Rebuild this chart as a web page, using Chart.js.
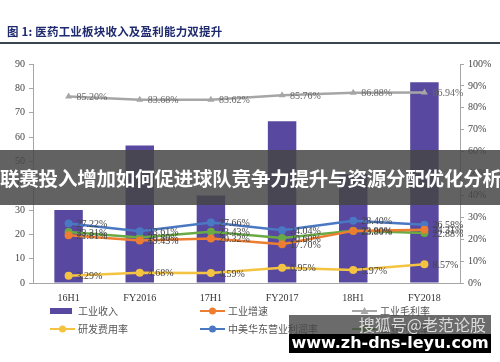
<!DOCTYPE html>
<html>
<head>
<meta charset="utf-8">
<script src="https://cdn.jsdelivr.net/npm/chart.js@4"></script>
<style>
    html, body { margin: 0; padding: 0; background: #fff; }
    #wrap { position: relative; width: 500px; height: 362px; overflow: hidden; }
    #title {
        position: absolute; left: 7px; top: 23px;
        font: bold 11.5px "Noto Sans CJK SC", sans-serif; color: #1f2a6e; letter-spacing: 0.2px;
    }
    #rule { position: absolute; left: 0; top: 42px; width: 500px; height: 2px; background: #3a4552; }
    canvas { position: absolute; left: 0; top: 0; }
    #banner {
        position: absolute; left: 0; top: 150px; width: 500px; height: 55px;
        background: rgba(70, 70, 70, 0.85); color: #fff;
        font: bold 19.5px "Noto Sans CJK SC", sans-serif; line-height: 55px;
        text-align: center; white-space: nowrap; letter-spacing: -0.2px;
    }
    #wm1 {
        position: absolute; left: 289px; top: 315px; width: 202px; height: 19px;
        background: rgba(70, 70, 70, 0.8); color: #ddd;
        font: 16px "Noto Sans CJK SC", sans-serif; line-height: 19px; text-align: right;
        box-sizing: border-box; padding-right: 5px; white-space: nowrap;
    }
    #wm2 {
        position: absolute; left: 289px; top: 334px; width: 202px; height: 19px;
        background: #000; color: #fff;
        font: bold 16px "DejaVu Sans", sans-serif; line-height: 17px; text-align: center;
        white-space: nowrap;
    }
</style>
</head>
<body>
<div id="wrap">
    <canvas id="chart" width="500" height="362"></canvas>
    <div id="title">图 1:  医药工业板块收入及盈利能力双提升</div>
    <div id="rule"></div>
    <div id="banner">联赛投入增加如何促进球队竞争力提升与资源分配优化分析</div>
    <div id="wm1">搜狐号@老范论股</div>
    <div id="wm2">www.zh-dns-leyu.com</div>
</div>
<script>
// Data
const periods = ['16H1', 'FY2016', '17H1', 'FY2017', '18H1', 'FY2018'];
const revenue = [30, 56.5, 36, 66.5, 44.7, 82.5];          // 工业收入 (left axis)
const growth = [21.81, 19.43, 20.32, 17.70, 23.80, 24.31]; // 工业增速 %
const grossMargin = [85.20, 83.68, 83.62, 85.76, 86.88, 86.94]; // 工业毛利率 %
const rdRate = [3.29, 4.68, 4.59, 6.95, 5.97, 8.57];       // 研发费用率 %
const huadongMargin = [27.22, 23.61, 27.66, 24.04, 28.40, 26.58]; // 中美华东营业利润率 %
const otherMargin = [23.31, 20.80, 23.43, 20.60, 23.90, 22.88];   // 工业利润率 %
const leftTicks = { min: 0, max: 90, step: 10 };
const rightTicks = { min: 0, max: 100, step: 10 };

const tickFont = { family: '"Liberation Serif", serif', size: 10 };
const axisColor = '#a6a6a6';

const lineSet = (label, data, color, style) => ({
    type: 'line', label, data, yAxisID: 'y1',
    borderColor: color, backgroundColor: color,
    borderWidth: 2.5, pointStyle: style || 'circle', pointRadius: 4,
    pointBorderWidth: 0, tension: 0, order: 1
});

// draws "xx.xx%" next to every line point
const pointLabels = {
    id: 'pointLabels',
    afterDatasetsDraw(chart) {
        const ctx = chart.ctx;
        ctx.save();
        ctx.font = '10px "Liberation Serif", serif';
        ctx.textBaseline = 'middle';
        chart.data.datasets.forEach((ds, i) => {
            if (ds.type !== 'line') return;
            const meta = chart.getDatasetMeta(i);
            ctx.fillStyle = ds.label === '工业毛利率' ? '#666' : '#444';
            meta.data.forEach((pt, j) => {
                ctx.fillText(ds.data[j].toFixed(2) + '%', pt.x + 8, pt.y + 1);
            });
        });
        ctx.restore();
    }
};

// legend laid out in 3 columns, 2 rows
const gridLegend = {
    id: 'gridLegend',
    afterDraw(chart) {
        const ctx = chart.ctx;
        const cols = [50, 200, 352];
        const rows = [311, 329];
        const order = [0, 2, 1, 3, 4, 5];
        ctx.save();
        ctx.font = '10px "Noto Sans CJK SC", sans-serif';
        ctx.textBaseline = 'middle';
        order.forEach((dsIndex, k) => {
            const ds = chart.data.datasets[dsIndex];
            const x = cols[k % 3];
            const y = rows[Math.floor(k / 3)];
            if (ds.type === 'bar') {
                ctx.fillStyle = ds.backgroundColor;
                ctx.fillRect(x, y - 3, 22, 6);
            } else {
                ctx.strokeStyle = ds.borderColor;
                ctx.lineWidth = 2;
                ctx.beginPath();
                ctx.moveTo(x, y);
                ctx.lineTo(x + 25, y);
                ctx.stroke();
                ctx.fillStyle = ds.borderColor;
                ctx.beginPath();
                if (ds.pointStyle === 'triangle') {
                    ctx.moveTo(x + 12.5, y - 4);
                    ctx.lineTo(x + 16.5, y + 3);
                    ctx.lineTo(x + 8.5, y + 3);
                    ctx.closePath();
                } else {
                    ctx.arc(x + 12.5, y, 3.5, 0, Math.PI * 2);
                }
                ctx.fill();
            }
            ctx.fillStyle = '#555';
            ctx.fillText(ds.label, x + 28, y);
        });
        ctx.restore();
    }
};

new Chart(document.getElementById('chart'), {
    data: {
        labels: periods,
        datasets: [
            {
                type: 'bar', label: '工业收入', data: revenue, yAxisID: 'y',
                backgroundColor: '#58489f', barPercentage: 0.4, categoryPercentage: 1, order: 2
            },
            lineSet('工业毛利率', grossMargin, '#a6a6a6', 'triangle'),
            lineSet('工业增速', growth, '#ed7d31'),
            lineSet('研发费用率', rdRate, '#f5c342'),
            lineSet('中美华东营业利润率', huadongMargin, '#4a78c2'),
            lineSet('工业利润率', otherMargin, '#6aaa45')
        ]
    },
    options: {
        responsive: false,
        animation: false,
        layout: { padding: { top: 64, left: 0, right: 0, bottom: 0 } },
        plugins: { legend: { display: false }, tooltip: { enabled: false } },
        scales: {
            x: {
                grid: { display: false },
                border: { color: axisColor },
                ticks: { font: tickFont, color: '#333', padding: 1 },
                afterFit: s => { s.height = 79; }
            },
            y: {
                position: 'left', min: leftTicks.min, max: leftTicks.max,
                ticks: { stepSize: leftTicks.step, font: tickFont, color: '#444', padding: 4 },
                grid: { drawOnChartArea: false, tickLength: 4, color: axisColor },
                border: { color: axisColor },
                afterFit: s => { s.width = 33; }
            },
            y1: {
                position: 'right', min: rightTicks.min, max: rightTicks.max,
                ticks: { stepSize: rightTicks.step, font: tickFont, color: '#444', padding: 4,
                    callback: v => v + '%' },
                grid: { drawOnChartArea: false, tickLength: 4, color: axisColor },
                border: { color: axisColor },
                afterFit: s => { s.width = 40; }
            }
        }
    },
    plugins: [pointLabels, gridLegend]
});
</script>
</body>
</html>
